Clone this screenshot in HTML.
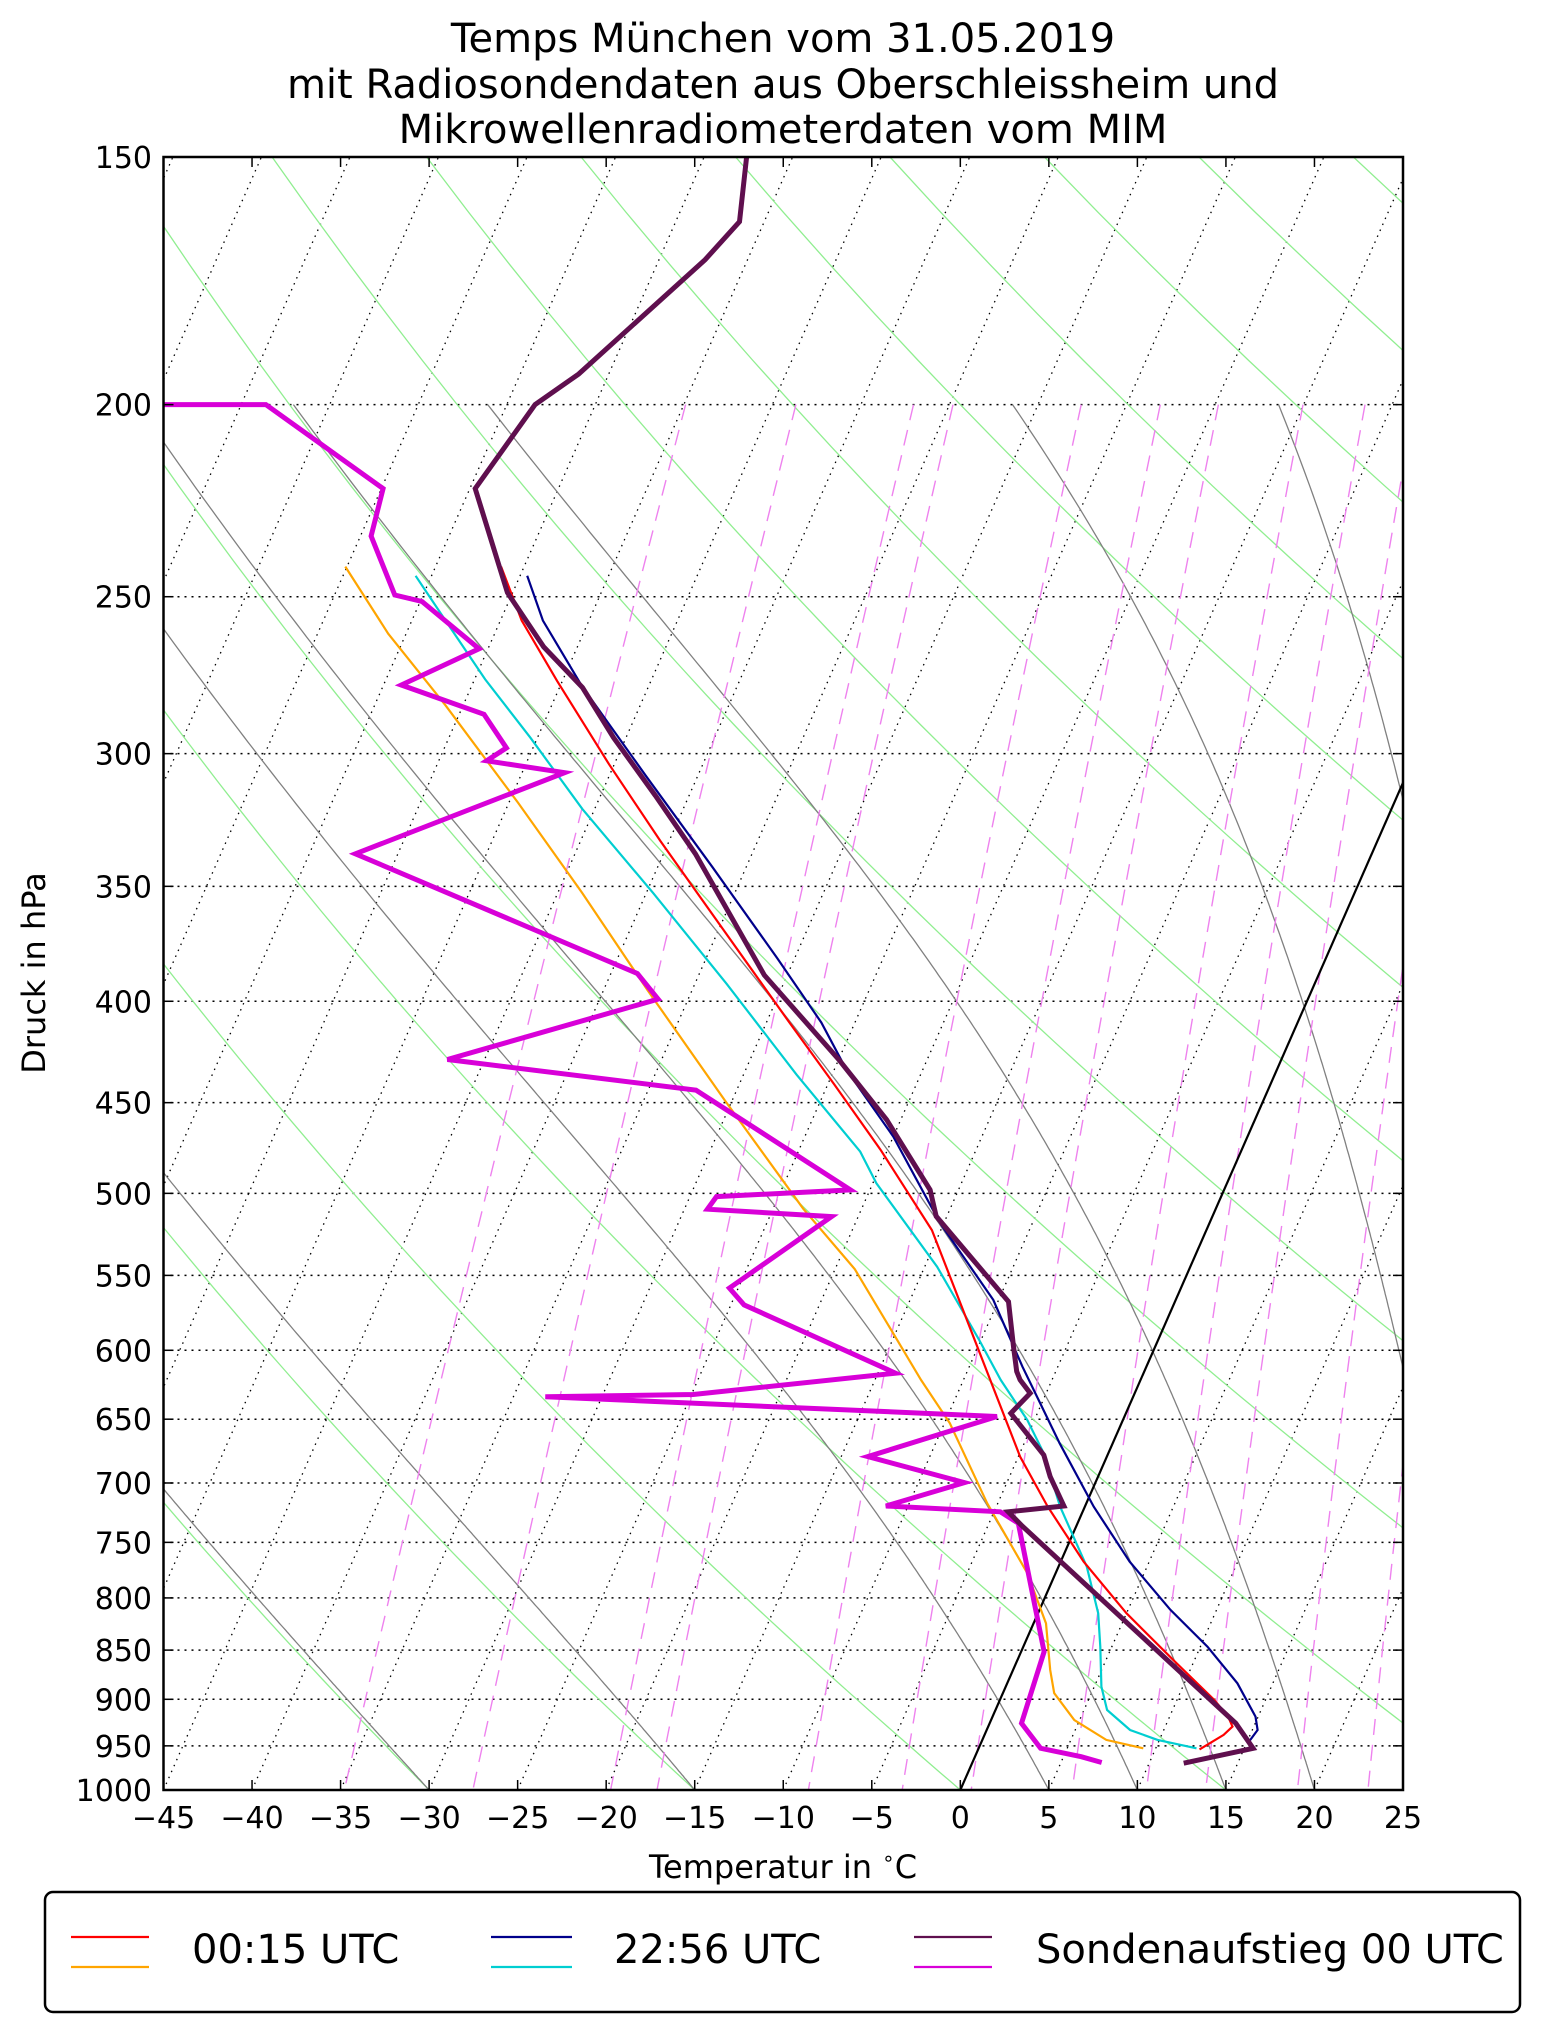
<!DOCTYPE html>
<html><head><meta charset="utf-8"><style>
html,body{margin:0;padding:0;background:#fff}
svg{display:block;font-family:"DejaVu Sans","Liberation Sans",sans-serif}
</style></head><body>
<svg id="chart" width="1542" height="2032" viewBox="0 0 1542 2032" xmlns="http://www.w3.org/2000/svg">
<defs><clipPath id="plotclip"><rect x="163.5" y="157" width="1239.5" height="1633"/></clipPath></defs>
<rect x="0" y="0" width="1542" height="2032" fill="#fff"/>
<g font-size="40" text-anchor="middle" fill="#000">
<text x="783" y="52">Temps München vom 31.05.2019</text>
<text x="783" y="98">mit Radiosondendaten aus Oberschleissheim und</text>
<text x="783" y="143">Mikrowellenradiometerdaten vom MIM</text>
</g>
<g id="bg" clip-path="url(#plotclip)"></g>
<g id="series" clip-path="url(#plotclip)"></g>
<g id="axes"></g>
<text x="783" y="1878" font-size="32" text-anchor="middle">Temperatur in <tspan font-size="20" dy="-13">∘</tspan><tspan dy="13">C</tspan></text>
<text transform="translate(34,973) rotate(-90)" font-size="32" text-anchor="middle" dominant-baseline="central">Druck in hPa</text>
<g>
<rect x="45" y="1892" width="1475" height="120" rx="8" fill="#fff" stroke="#000" stroke-width="2.5"/>
<g>
<line x1="71" y1="1937" x2="149" y2="1937" stroke="#ff0000" stroke-width="2.2"/>
<line x1="71" y1="1967" x2="149" y2="1967" stroke="#ffa500" stroke-width="2.2"/>
<text x="192" y="1963" font-size="40">00:15 UTC</text></g>
<g>
<line x1="491" y1="1937" x2="572" y2="1937" stroke="#00008b" stroke-width="2.2"/>
<line x1="491" y1="1967" x2="572" y2="1967" stroke="#00ced1" stroke-width="2.2"/>
<text x="614" y="1963" font-size="40">22:56 UTC</text></g>
<g>
<line x1="914" y1="1937" x2="992" y2="1937" stroke="#5f0f4e" stroke-width="2.2"/>
<line x1="914" y1="1967" x2="992" y2="1967" stroke="#d800d8" stroke-width="2.2"/>
<text x="1036" y="1963" font-size="40">Sondenaufstieg 00 UTC</text></g>
</g>
</svg>
<script>
// ---- data ----
const pressureTicks = [150,200,250,300,350,400,450,500,550,600,650,700,750,800,850,900,950,1000];
const tempTicks = [-45,-40,-35,-30,-25,-20,-15,-10,-5,0,5,10,15,20,25];
const dryAdiabatTheta = [-90,-75,-60,-45,-30,-15,0,15,30,45,60,75,90,105,120,135,150,165,180,195,210];
const moistAdiabatStart = [-30,-15,5,10,15,20,30,35];
const mixingRatios = [0.2,0.4,0.8,1,2,3,4,6,8,10,14,18,24];

const sondeP = [150,161.7,169,193,200,220.5,248.8,265,277.8,294.5,315,337,388,428,459,498,513.5,567,597.5,615,621,630.7,645.6,677.6,694.9,719,723.8,736,925.4,952.7,969.4];
const sondeT = [-52.6,-51.4,-52.4,-56.7,-58.4,-59.7,-55.3,-51.9,-48.7,-45.7,-41.9,-38.2,-31.3,-25.0,-20.8,-16.6,-15.6,-9.4,-8.0,-7.2,-6.8,-5.9,-6.5,-3.6,-2.7,-1.2,-4.2,-3.05,13.9,15.5,11.95];
const sondeTdP = [200,200,220.5,233,249.5,251.4,265.6,277,286.6,298,302.5,306.7,337,387.3,399,428,443.5,498,501.9,509.3,513.7,558.2,569.2,616.2,631.6,633.2,648,678.9,699.7,719,723.8,733.5,851.6,925.4,952.7,962,968.6];
const sondeTd = [-90,-73.6,-64.9,-64.4,-61.6,-59.9,-55.5,-59.0,-53.6,-51.5,-52.3,-47.6,-57.4,-38.5,-36.7,-47.1,-32.3,-21.1,-28.5,-28.7,-21.5,-25.5,-24.25,-14.0,-24.9,-33.2,-7.2,-13.5,-7.4,-11.25,-4.65,-3.35,1.3,1.8,3.5,6.0,7.3];
const mwr0015TP = [241.4,257,275.7,303.7,332,369,410,440.8,475.3,521.8,678.9,719.5,767,814.4,859.8,900.6,918.3,929,938,953.9];
const mwr0015T = [-56.3,-53.8,-50.3,-45.3,-40.5,-34.6,-28.7,-24.6,-20.4,-15.5,-4.9,-2.1,1.3,5.0,8.8,12.1,13.3,13.8,13.5,12.5];
const mwr0015TdP = [241.4,261,283.6,317.5,352.8,395,448.9,509,545.9,588.6,621,653,716.7,777.3,824,869.9,893.6,921.9,943.5,952.7];
const mwr0015Td = [-65.1,-61.0,-56.0,-49.5,-43.6,-37.5,-30.4,-23.3,-18.9,-15.1,-12.4,-9.7,-5.6,-1.6,0.7,2.1,2.9,4.7,7.0,9.3];
const mwr2256TP = [244,257,277.2,308,342.3,380.4,410,433.2,468.1,517.7,565.9,611.5,668.4,719.5,767,811.2,846.6,883.4,918.3,932.7,945.3];
const mwr2256T = [-54.6,-52.6,-48.8,-42.9,-36.9,-31.0,-26.9,-24.3,-20.0,-15.2,-10.3,-7.0,-3.0,0.5,3.9,7.4,10.4,13.0,14.85,15.3,15.1];
const mwr2256TdP = [244,257,275.2,294.5,319.9,352.8,392,435.6,476.3,494.2,544.5,592.9,621,650.6,676.2,719.5,771.5,814.4,846.6,886.8,911.2,932.7,943.5,952.7];
const mwr2256Td = [-60.9,-58.1,-54.4,-50.4,-45.7,-39.6,-33.2,-27.0,-21.5,-19.8,-14.3,-10.1,-7.9,-5.4,-3.65,-1.4,1.6,3.4,4.35,5.4,6.3,8.1,9.9,12.3];

// ---- axes ----
const L=163.5, R=1403, TOP=157, BOT=1790, PMIN=150, PMAX=1000, TMIN=-45, TMAX=25, SKEW=0.4395;
const KX=(R-L)/(TMAX-TMIN);
function yOf(p){return TOP+Math.log(p/PMIN)/Math.log(PMAX/PMIN)*(BOT-TOP);}
function xOf(T,p){return L+(T-TMIN)*KX+SKEW*(BOT-yOf(p));}
const NS="http://www.w3.org/2000/svg";
function mk(tag,attrs,parent){const e=document.createElementNS(NS,tag);for(const k in attrs)e.setAttribute(k,attrs[k]);parent.appendChild(e);return e;}
function ptsStr(ps,ts){return ps.map((p,i)=>xOf(ts[i],p).toFixed(1)+','+yOf(p).toFixed(1)).join(' ');}
const bg=document.getElementById('bg'), series=document.getElementById('series'), axes=document.getElementById('axes');

for(let T=-140;T<=25;T+=5){
  const l=mk('line',{x1:xOf(T,1000),y1:yOf(1000),x2:xOf(T,150),y2:yOf(150),stroke:'#000','stroke-width':1.3,'stroke-dasharray':'1.5,5'},bg);
  
  
}
pressureTicks.forEach(p=>{
  const l=mk('line',{x1:L,y1:yOf(p),x2:R,y2:yOf(p),stroke:'#000','stroke-width':1.5,'stroke-dasharray':'2,5'},bg);
  
  
});
dryAdiabatTheta.forEach(th=>{
  const ps=[],ts=[];
  for(let p=150;p<=1000;p+=10){ps.push(p);ts.push((th+273.15)*Math.pow(p/1000,0.2857)-273.15);}
  const pl=mk('polyline',{points:ptsStr(ps,ts),fill:'none',stroke:'#90ee90','stroke-width':1.3},bg);
  
  
});
function es(Tc){return 6.112*Math.exp(17.67*Tc/(Tc+243.5));}
moistAdiabatStart.forEach(t0=>{
  const ps=[1000],ts=[t0];let T=t0+273.15;
  for(let p=1000;p>200;p-=2){
    const e=es(T-273.15), rs=0.622*e/(p-e);
    const dTdp=(287*T+2.5e6*rs)/(p*(1005+2.5e6*2.5e6*rs*0.622/(287*T*T)));
    T-=dTdp*2; ps.push(p-2); ts.push(T-273.15);
  }
  const pl=mk('polyline',{points:ptsStr(ps,ts),fill:'none',stroke:'#808080','stroke-width':1.3},bg);
  
  
});
mixingRatios.forEach(w=>{
  const ps=[],ts=[];
  for(let p=200;p<=1000;p+=20){const e=w*p/(622+w);const g=Math.log(e/6.112);ps.push(p);ts.push(243.5*g/(17.67-g));}
  const pl=mk('polyline',{points:ptsStr(ps,ts),fill:'none',stroke:'#ee82ee','stroke-width':1.4,'stroke-dasharray':'16,10'},bg);
  
  
});
const zl=mk('line',{x1:xOf(0,1000),y1:yOf(1000),x2:xOf(0,150),y2:yOf(150),stroke:'#000','stroke-width':2.2},bg);



function drawSeries(ps,ts,color,w,name){
  const pl=mk('polyline',{points:ptsStr(ps,ts),fill:'none',stroke:color,'stroke-width':w,'stroke-linejoin':'miter'},series);
  
  
}
drawSeries(mwr0015TdP,mwr0015Td,'#ffa500',2.2,'mwr-0015-dewpoint');
drawSeries(mwr2256TdP,mwr2256Td,'#00ced1',2.2,'mwr-2256-dewpoint');
drawSeries(mwr0015TP,mwr0015T,'#ff0000',2.2,'mwr-0015-temperature');
drawSeries(mwr2256TP,mwr2256T,'#00008b',2.2,'mwr-2256-temperature');
drawSeries(sondeTdP,sondeTd,'#d800d8',5,'sonde-dewpoint');
drawSeries(sondeP,sondeT,'#5f0f4e',5,'sonde-temperature');

const fr=mk('rect',{x:L,y:TOP,width:R-L,height:BOT-TOP,fill:'none',stroke:'#000','stroke-width':2.5},axes);


tempTicks.forEach(T=>{
  const x=L+(T-TMIN)*KX;
  mk('line',{x1:x,y1:BOT,x2:x,y2:BOT-10,stroke:'#000','stroke-width':1.5},axes);
  mk('line',{x1:x,y1:TOP,x2:x,y2:TOP+10,stroke:'#000','stroke-width':1.5},axes);
  const t=mk('text',{x:x,y:1828,'font-size':30,'text-anchor':'middle'},axes);
  t.textContent=(T<0?'\u2212'+(-T):''+T);
  
  
});
pressureTicks.forEach(p=>{
  const y=yOf(p);
  mk('line',{x1:L,y1:y,x2:L+10,y2:y,stroke:'#000','stroke-width':1.5},axes);
  mk('line',{x1:R,y1:y,x2:R-10,y2:y,stroke:'#000','stroke-width':1.5},axes);
  const t=mk('text',{x:152,y:y+11,'font-size':30,'text-anchor':'end'},axes);
  t.textContent=''+p;
  
  
});
</script>
</body></html>
